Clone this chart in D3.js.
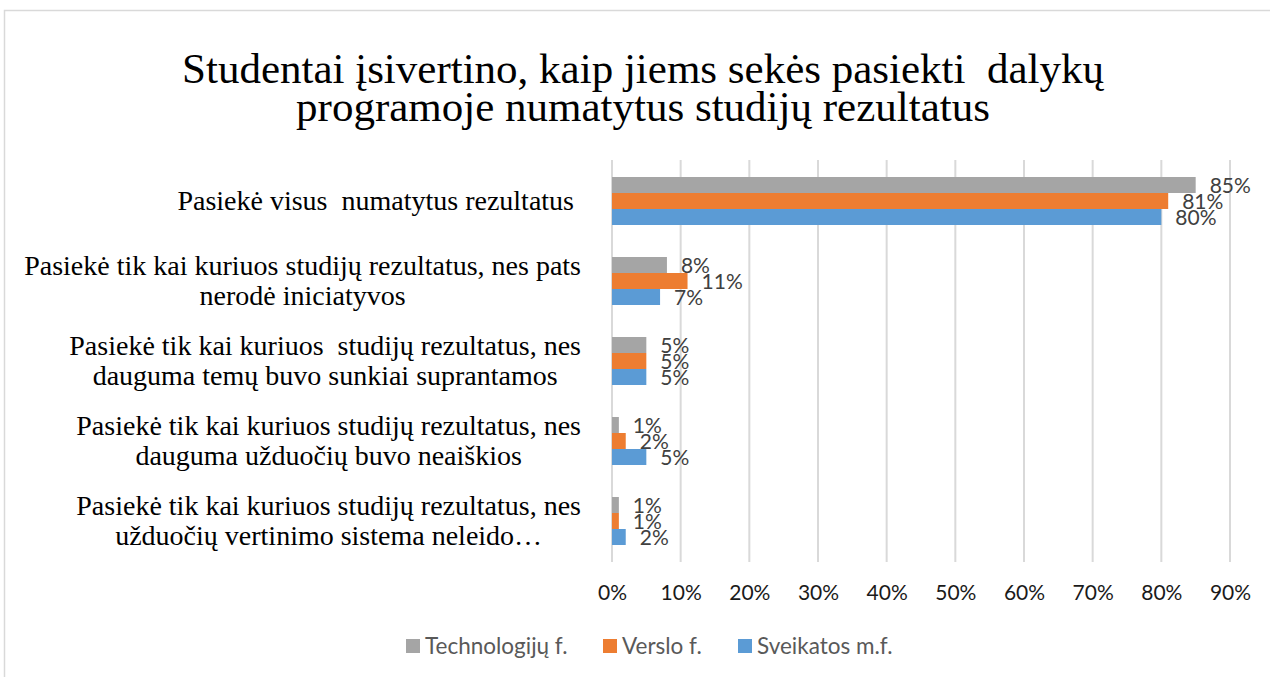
<!DOCTYPE html>
<html lang="lt">
<head>
    <meta charset="utf-8">
    <title>Studijų rezultatai</title>
    <script src="https://d3js.org/d3.v7.min.js"></script>
    <style>
        body { margin: 0; background: #fff; }
        svg text { white-space: pre; }
    </style>
</head>
<body>
<script>
    // data
    const categories = [
        ["Pasiekė visus  numatytus rezultatus "],
        ["Pasiekė tik kai kuriuos studijų rezultatus, nes pats", "nerodė iniciatyvos"],
        ["Pasiekė tik kai kuriuos  studijų rezultatus, nes", "dauguma temų buvo sunkiai suprantamos"],
        ["Pasiekė tik kai kuriuos studijų rezultatus, nes", "dauguma užduočių buvo neaiškios"],
        ["Pasiekė tik kai kuriuos studijų rezultatus, nes", "užduočių vertinimo sistema neleido…"]
    ];
    const seriesNames = ["Technologijų f.", "Verslo f.", "Sveikatos m.f."];
    const technologiju = [85, 8, 5, 1, 1];
    const verslo       = [81, 11, 5, 2, 1];
    const sveikatos    = [80, 7, 5, 5, 2];
    const xTicks = [0, 10, 20, 30, 40, 50, 60, 70, 80, 90];
    const colors = ["#a5a5a5", "#ed7d31", "#5b9bd5"];

    const values = [technologiju, verslo, sveikatos];

    const width = 1270, height = 677;
    const svg = d3.select("body").append("svg")
        .attr("width", width)
        .attr("height", height);

    // chart border
    svg.append("rect")
        .attr("x", 4.5).attr("y", 10.5)
        .attr("width", 1300).attr("height", 700)
        .attr("fill", "none")
        .attr("stroke", "#d9d9d9")
        .attr("stroke-width", 1.5);

    // title
    const title = ["Studentai įsivertino, kaip jiems sekės pasiekti  dalykų",
                   "programoje numatytus studijų rezultatus"];
    svg.append("g").selectAll("text")
        .data(title).enter()
        .append("text")
        .attr("x", 643)
        .attr("y", (d, i) => 83 + i * 38)
        .attr("text-anchor", "middle")
        .attr("font-family", "Liberation Serif, serif")
        .attr("font-size", 43)
        .attr("fill", "#000")
        .text(d => d);

    // scales
    const x = d3.scaleLinear().domain([0, 90]).range([612, 1230]);
    const y = d3.scaleBand()
        .domain(d3.range(categories.length))
        .range([161, 561])
        .paddingInner(0.4)
        .paddingOuter(0.2);
    const ySub = d3.scaleBand()
        .domain(d3.range(seriesNames.length))
        .range([0, y.bandwidth()]);

    // gridlines
    svg.append("g").selectAll("line")
        .data(xTicks).enter()
        .append("line")
        .attr("x1", d => x(d)).attr("x2", d => x(d))
        .attr("y1", 160).attr("y2", 562)
        .attr("stroke", "#d9d9d9")
        .attr("stroke-width", 2);

    // x axis labels
    const xAxis = svg.append("g")
        .attr("transform", "translate(0,600)")
        .call(d3.axisBottom(x).tickValues(xTicks).tickSize(0).tickPadding(0).tickFormat(d => d + "%"));
    xAxis.select(".domain").remove();
    xAxis.selectAll("text")
        .attr("dy", 0)
        .attr("font-family", "Lato, sans-serif")
        .attr("font-size", 21)
        .attr("fill", "#1a1a1a");

    // bars
    const groups = svg.append("g").selectAll("g")
        .data(categories.map((c, i) => i)).enter()
        .append("g")
        .attr("transform", i => `translate(0,${y(i)})`);

    groups.selectAll("rect")
        .data(i => values.map((v, s) => ({ s: s, v: v[i] }))).enter()
        .append("rect")
        .attr("x", x(0))
        .attr("y", d => ySub(d.s))
        .attr("width", d => x(d.v) - x(0))
        .attr("height", ySub.bandwidth())
        .attr("fill", d => colors[d.s]);

    groups.selectAll("text")
        .data(i => values.map((v, s) => ({ s: s, v: v[i] }))).enter()
        .append("text")
        .attr("x", d => x(d.v) + 14)
        .attr("y", d => ySub(d.s) + ySub.bandwidth() / 2)
        .attr("dy", "0.36em")
        .attr("font-family", "Lato, sans-serif")
        .attr("font-size", 21)
        .attr("fill", "#404040")
        .text(d => d.v + "%");

    // category labels: lines centred within a block right-aligned to the axis
    const labelRight = 581;
    const lineH = 30;
    categories.forEach((lines, i) => {
        const g = svg.append("g");
        const texts = g.selectAll("text")
            .data(lines).enter()
            .append("text")
            .attr("font-family", "Liberation Serif, serif")
            .attr("font-size", 28)
            .attr("fill", "#000")
            .attr("text-anchor", "middle")
            .text(d => d);
        let maxW = 0;
        texts.each(function () { maxW = Math.max(maxW, this.getComputedTextLength()); });
        const cy = y(i) + y.bandwidth() / 2;
        const top = cy - (lines.length - 1) * lineH / 2;
        texts.attr("x", labelRight - maxW / 2)
            .attr("y", (d, j) => top + j * lineH)
            .attr("dy", "0.33em");
    });

    // legend
    const legendItems = [
        { x: 406, name: seriesNames[0], c: colors[0] },
        { x: 603, name: seriesNames[1], c: colors[1] },
        { x: 738, name: seriesNames[2], c: colors[2] }
    ];
    const legend = svg.append("g").selectAll("g")
        .data(legendItems).enter()
        .append("g")
        .attr("transform", d => `translate(${d.x},646)`);
    legend.append("rect")
        .attr("x", 0).attr("y", -7)
        .attr("width", 14).attr("height", 14)
        .attr("fill", d => d.c);
    legend.append("text")
        .attr("x", 19)
        .attr("y", 0)
        .attr("dy", "0.35em")
        .attr("font-family", "Lato, sans-serif")
        .attr("font-size", 22.5)
        .attr("fill", "#595959")
        .text(d => d.name);
</script>
</body>
</html>
